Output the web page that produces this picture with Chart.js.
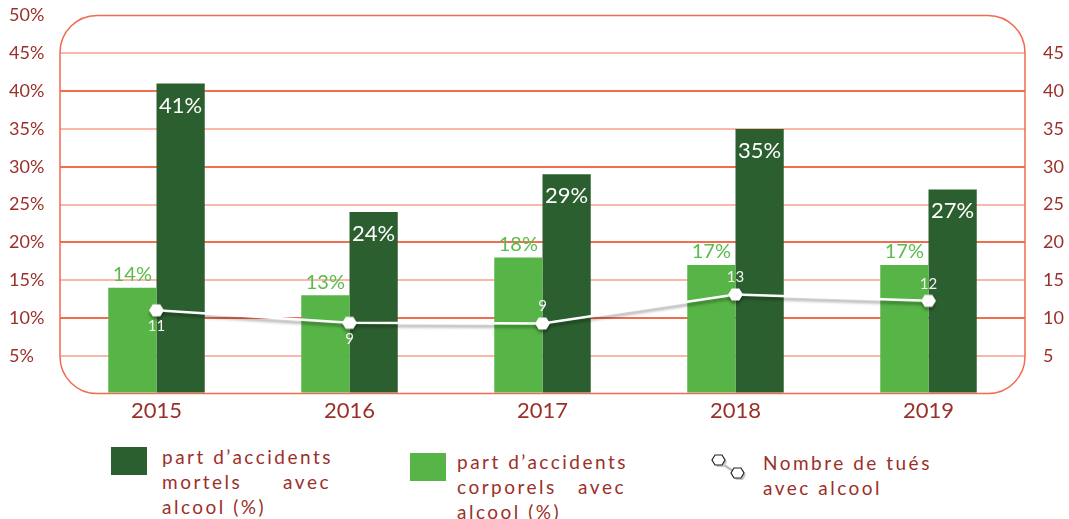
<!DOCTYPE html>
<html>
<head>
<meta charset="utf-8">
<script src="https://cdn.jsdelivr.net/npm/chart.js@4.4.0/dist/chart.umd.min.js"></script>
<style>
  body { margin: 0; background: #fff; font-family: Lato, sans-serif; }
  #wrap { position: relative; width: 1069px; height: 519px; overflow: hidden; }
  #box { position: absolute; left: 0; top: 0; width: 1069px; height: 430px; }
  .sw { position: absolute; width: 36px; height: 28px; }
  .txt { position: absolute; width: 169px; color: #9b2f2a; font-size: 19px; line-height: 25px; letter-spacing: 2.5px; white-space: nowrap; }
  .row { display: flex; justify-content: space-between; }
</style>
</head>
<body>
<div id="wrap">
  <div id="box"><canvas id="chart"></canvas></div>

  <div class="sw" style="left:111px;top:447px;background:#2c5f2f"></div>
  <div class="txt" style="left:162px;top:443.5px">
    <div>part d’accidents</div>
    <div class="row"><span>mortels</span><span>avec</span></div>
    <div>alcool (%)</div>
  </div>

  <div class="sw" style="left:410px;top:453px;background:#57b447"></div>
  <div class="txt" style="left:457px;top:449px">
    <div>part d’accidents</div>
    <div class="row"><span>corporels</span><span>avec</span></div>
    <div>alcool (%)</div>
  </div>

  <svg style="position:absolute;left:708px;top:452px" width="42" height="34">
    <line x1="10" y1="9" x2="28" y2="21" stroke="#bbb" stroke-width="2.5"/>
    <polygon points="17,8 14,13 7,13 4,8 7,3 14,3" fill="#c8c8c8" transform="translate(2,2)"/>
    <polygon points="17,8 14,13 7,13 4,8 7,3 14,3" fill="#fff" stroke="#222" stroke-width="1.2"/>
    <polygon points="17,8 14,13 7,13 4,8 7,3 14,3" fill="#c8c8c8" transform="translate(21,15)"/>
    <polygon points="17,8 14,13 7,13 4,8 7,3 14,3" fill="#fff" stroke="#222" stroke-width="1.2" transform="translate(19,13)"/>
  </svg>
  <div class="txt" style="left:763px;top:449.5px;width:220px">
    <div>Nombre de tués</div>
    <div>avec alcool</div>
  </div>
</div>

<script>
const years = ['2015', '2016', '2017', '2018', '2019'];
const mortels = [41, 24, 29, 35, 27];        // part d'accidents mortels avec alcool (%)
const corporels = [14, 13, 18, 17, 17];      // part d'accidents corporels avec alcool (%)
const tues = [11, 9.35, 9.26, 13.1, 12.26];  // nombre de tués (position)
const tuesLabels = ['11', '9', '9', '13', '12'];
const tuesLabelSide = ['below', 'below', 'above', 'above', 'above'];

const RED = '#9b2f2a';
const DARK = '#2c5f2f';
const LIGHT = '#57b447';

function hexagon(size, fill) {
  const c = document.createElement('canvas');
  c.width = size + 2; c.height = size + 2;
  const g = c.getContext('2d');
  const r = size / 2, cx = c.width / 2, cy = c.height / 2;
  g.beginPath();
  for (let i = 0; i < 6; i++) {
    const a = Math.PI / 3 * i;
    g.lineTo(cx + r * Math.cos(a), cy + r * 0.92 * Math.sin(a));
  }
  g.closePath();
  g.fillStyle = fill;
  g.fill();
  return c;
}

// rounded frame around the plot
const frame = {
  id: 'frame',
  beforeDatasetsDraw(chart) {
    const { ctx, chartArea: a } = chart;
    ctx.save();
    ctx.strokeStyle = '#f06b4f';
    ctx.lineWidth = 1.5;
    ctx.beginPath();
    ctx.roundRect(a.left, a.top, a.right - a.left, a.bottom - a.top, 37);
    ctx.stroke();
    ctx.restore();
  }
};

// soft shadow under the white line
const shadow = {
  id: 'shadow',
  beforeDatasetDraw(chart, args) {
    if (args.meta.type !== 'line') return;
    const c = chart.ctx;
    c.save();
    c.shadowColor = 'rgba(0,0,0,0.35)';
    c.shadowBlur = 3;
    c.shadowOffsetY = 3;
  },
  afterDatasetDraw(chart, args) {
    if (args.meta.type === 'line') chart.ctx.restore();
  }
};

const labels = {
  id: 'labels',
  afterDatasetsDraw(chart) {
    const c = chart.ctx;
    c.save();
    c.textAlign = 'center';
    c.textBaseline = 'middle';
    chart.getDatasetMeta(0).data.forEach((b, i) => {
      c.fillStyle = '#5dbb4c';
      c.font = '20px Lato';
      c.fillText(corporels[i] + '%', b.x, b.y - 13);
    });
    chart.getDatasetMeta(1).data.forEach((b, i) => {
      c.fillStyle = '#ffffff';
      c.font = '22px Lato';
      c.fillText(mortels[i] + '%', b.x, b.y + 22);
    });
    chart.getDatasetMeta(2).data.forEach((p, i) => {
      c.fillStyle = '#f4f4f4';
      c.font = '15px Lato';
      c.fillText(tuesLabels[i], p.x, p.y + (tuesLabelSide[i] === 'below' ? 16 : -17));
    });
    c.restore();
  }
};

new Chart(document.getElementById('chart'), {
  data: {
    labels: years,
    datasets: [
      {
        type: 'bar',
        label: 'part d’accidents corporels avec alcool (%)',
        data: corporels,
        backgroundColor: LIGHT,
        yAxisID: 'y',
        order: 1
      },
      {
        type: 'bar',
        label: 'part d’accidents mortels avec alcool (%)',
        data: mortels,
        backgroundColor: DARK,
        yAxisID: 'y',
        order: 1
      },
      {
        type: 'line',
        label: 'Nombre de tués avec alcool',
        data: tues,
        borderColor: '#ffffff',
        borderWidth: 2.5,
        pointStyle: hexagon(15, '#ffffff'),
        tension: 0,
        yAxisID: 'y2',
        order: 0
      }
    ]
  },
  options: {
    responsive: true,
    maintainAspectRatio: false,
    animation: false,
    layout: { padding: { left: 9, top: 15.5, right: 0, bottom: 0 }, autoPadding: false },
    datasets: { bar: { barPercentage: 1, categoryPercentage: 0.5 } },
    plugins: { legend: { display: false }, tooltip: { enabled: false } },
    scales: {
      x: {
        grid: { display: false, drawTicks: false },
        border: { display: false },
        ticks: { color: RED, font: { family: 'Lato', size: 22 }, padding: 4 },
        afterFit(s) { s.height = 36.5; s.paddingLeft = 0; s.paddingRight = 0; }
      },
      y: {
        position: 'left',
        min: 0, max: 50,
        border: { display: false },
        grid: {
          drawTicks: false,
          lineWidth: 2,
          color: (ctx) => {
            const v = ctx.tick ? ctx.tick.value : 0;
            if (v === 0 || v === 50) return 'rgba(0,0,0,0)';
            return v % 10 === 0 ? '#f26c50' : '#f9b8aa';
          }
        },
        ticks: {
          stepSize: 5,
          crossAlign: 'far',
          color: RED,
          font: { family: 'Lato', size: 18 },
          callback: (v) => v === 0 ? '' : v + '%'
        },
        afterFit(s) { s.width = 51; s.paddingTop = 0; s.paddingBottom = 0; }
      },
      y2: {
        position: 'right',
        min: 0, max: 50,
        border: { display: false },
        grid: { display: false, drawTicks: false },
        ticks: {
          stepSize: 5,
          padding: 18,
          color: RED,
          font: { family: 'Lato', size: 18 },
          callback: (v) => (v === 0 || v === 50) ? '' : v
        },
        afterFit(s) { s.width = 44; s.paddingTop = 0; s.paddingBottom = 0; }
      }
    }
  },
  plugins: [frame, shadow, labels]
});
</script>
</body>
</html>
